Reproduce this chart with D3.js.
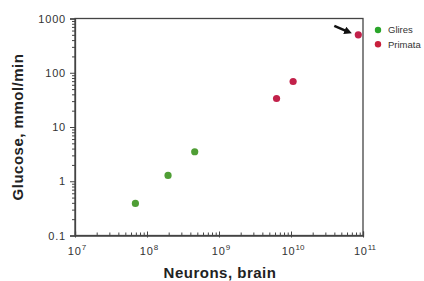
<!DOCTYPE html>
<html>
<head>
<meta charset="utf-8">
<script src="https://cdn.jsdelivr.net/npm/d3@7"></script>
<style>
  body { margin: 0; background: #fff; }
  svg { display: block; font-family: "Liberation Sans", Arial, sans-serif; }
</style>
</head>
<body>
<div id="chart"></div>
<script>
// Dados
const seriesNames = ["Glires", "Primata"];
const seriesColors = ["#4f9e35", "#c2214a"];
const legendColors = ["#2aa52a", "#c8203c"];
const gliresNeurons = [6.9e7, 1.96e8, 4.6e8];
const gliresGlucose = [0.39, 1.28, 3.5];
const primataNeurons = [6.3e9, 1.07e10, 8.6e10];
const primataGlucose = [33.5, 69, 500];
const xTickExps = [7, 8, 9, 10, 11];
const yTickValues = [0.1, 1, 10, 100, 1000];
const yTickLabels = ["0.1", "1", "10", "100", "1000"];

const svgWidth = 424, svgHeight = 281;
const margin = { top: 18.5, right: 61, bottom: 45.5, left: 75 };

const svg = d3.select("#chart").append("svg")
    .attr("width", svgWidth)
    .attr("height", svgHeight);

const xScale = d3.scaleLog()
    .domain([1e7, 1e11])
    .range([margin.left, svgWidth - margin.right]);

const yScale = d3.scaleLog()
    .domain([0.1, 1000])
    .range([svgHeight - margin.bottom, margin.top]);

const axisColor = "#444";

// Moldura (lados de cima e direita)
svg.append("rect")
    .attr("x", xScale.range()[0])
    .attr("y", yScale.range()[1])
    .attr("width", xScale.range()[1] - xScale.range()[0])
    .attr("height", yScale.range()[0] - yScale.range()[1])
    .attr("fill", "none")
    .attr("stroke", axisColor)
    .attr("stroke-width", 1.3);

// Marcas do eixo Y (para fora, à esquerda)
const yMinor = [];
for (let e = -1; e < 3; e++) for (let m = 2; m <= 9; m++) yMinor.push(m * Math.pow(10, e));

svg.append("g")
    .attr("transform", `translate(${margin.left},0)`)
    .call(d3.axisLeft(yScale).tickValues(yMinor).tickSize(3).tickFormat(""))
    .call(g => g.select(".domain").remove())
    .call(g => g.selectAll("line").attr("stroke", axisColor));

svg.append("g")
    .attr("transform", `translate(${margin.left},0)`)
    .call(d3.axisLeft(yScale).tickValues(yTickValues).tickSize(5).tickFormat((d, i) => yTickLabels[i]).tickPadding(4))
    .call(g => g.select(".domain").attr("stroke", axisColor).attr("stroke-width", 1.3))
    .call(g => g.selectAll("line").attr("stroke", axisColor).attr("x2", -5).attr("x1", 1))
    .call(g => g.selectAll("text")
        .attr("font-size", 11).attr("letter-spacing", 0.8)
        .attr("fill", "#333").attr("font-family", null));

// Marcas do eixo X (para dentro, para cima)
const xMinor = [];
for (let e = 7; e < 11; e++) for (let m = 2; m <= 9; m++) xMinor.push(m * Math.pow(10, e));

svg.append("g")
    .attr("transform", `translate(0,${yScale.range()[0]})`)
    .call(d3.axisTop(xScale).tickValues(xMinor).tickSize(3).tickFormat(""))
    .call(g => g.select(".domain").remove())
    .call(g => g.selectAll("line").attr("stroke", axisColor));

svg.append("g")
    .attr("transform", `translate(0,${yScale.range()[0]})`)
    .call(d3.axisTop(xScale).tickValues(xTickExps.map(e => Math.pow(10, e))).tickSize(4).tickFormat(""))
    .call(g => g.select(".domain").attr("stroke", axisColor).attr("stroke-width", 1.3))
    .call(g => g.selectAll("line").attr("stroke", axisColor).attr("y2", -4).attr("y1", 2));

// Rótulos do eixo X com expoente
const xLabels = svg.append("g").attr("font-size", 11).attr("fill", "#333");
xTickExps.forEach(e => {
    const t = xLabels.append("text")
        .attr("x", xScale(Math.pow(10, e)) + 2)
        .attr("y", yScale.range()[0] + 19.5)
        .attr("text-anchor", "middle");
    t.append("tspan").attr("letter-spacing", 0.8).text("10");
    t.append("tspan").attr("dy", -5).attr("font-size", 8).text(e);
});

// Pontos
const groups = [
    { neurons: gliresNeurons, glucose: gliresGlucose },
    { neurons: primataNeurons, glucose: primataGlucose }
];
groups.forEach((grp, gi) => {
    svg.append("g").selectAll("circle")
        .data(grp.neurons)
        .enter()
        .append("circle")
        .attr("cx", d => xScale(d))
        .attr("cy", (d, i) => yScale(grp.glucose[i]))
        .attr("r", 3.6)
        .attr("fill", seriesColors[gi]);
});

// Seta apontando para o último ponto (humano)
svg.append("defs").append("marker")
    .attr("id", "head")
    .attr("viewBox", "0 0 10 10")
    .attr("refX", 5).attr("refY", 5)
    .attr("markerWidth", 3).attr("markerHeight", 3)
    .attr("orient", "auto")
    .append("path")
    .attr("d", "M0,0 L10,5 L0,10 z")
    .attr("fill", "#111");

const last = primataNeurons.length - 1;
const hx = xScale(primataNeurons[last]), hy = yScale(primataGlucose[last]);
svg.append("line")
    .attr("x1", hx - 24).attr("y1", hy - 9)
    .attr("x2", hx - 10).attr("y2", hy - 3)
    .attr("stroke", "#111")
    .attr("stroke-width", 2.6)
    .attr("marker-end", "url(#head)");

// Legenda
const legend = svg.append("g").attr("transform", "translate(378,30)");
seriesNames.forEach((name, i) => {
    legend.append("circle")
        .attr("cx", 0).attr("cy", i * 14.3)
        .attr("r", 3.2)
        .attr("fill", legendColors[i]);
    legend.append("text")
        .attr("x", 10).attr("y", i * 14.3 + 3.4)
        .attr("font-size", 9.5)
        .attr("fill", "#333")
        .text(name);
});

// Títulos dos eixos
svg.append("text")
    .attr("text-anchor", "middle")
    .attr("x", (xScale.range()[0] + xScale.range()[1]) / 2 + 1)
    .attr("y", 277.5)
    .attr("font-size", 15)
    .attr("letter-spacing", 0.5)
    .attr("font-weight", "bold")
    .attr("fill", "#222")
    .text("Neurons, brain");

svg.append("text")
    .attr("text-anchor", "middle")
    .attr("transform", `translate(23,${(yScale.range()[0] + yScale.range()[1]) / 2}) rotate(-90)`)
    .attr("font-size", 15)
    .attr("letter-spacing", 0.5)
    .attr("font-weight", "bold")
    .attr("fill", "#222")
    .text("Glucose, mmol/min");
</script>
</body>
</html>
